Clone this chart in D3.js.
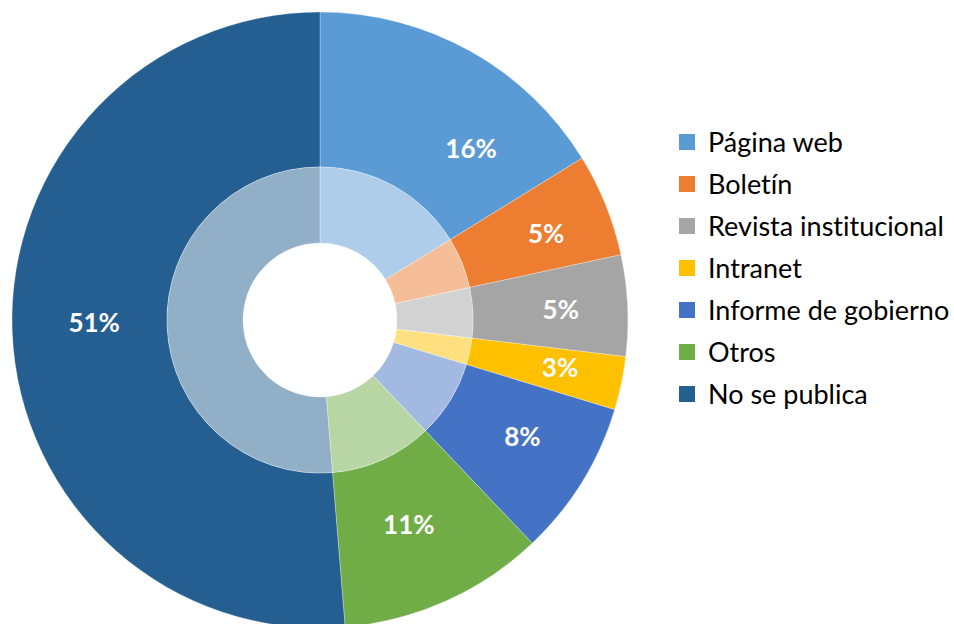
<!DOCTYPE html>
<html>
<head>
<meta charset="utf-8">
<title>Publicación</title>
<style>
body { margin: 0; background: #fff; }
svg { display: block; font-family: Lato, "Open Sans", sans-serif; font-variant-ligatures: none; }
</style>
<script src="https://d3js.org/d3.v7.min.js"></script>
</head>
<body>
<svg id="chart" width="954" height="624"></svg>
<script>
const categories = ["Página web", "Boletín", "Revista institucional", "Intranet", "Informe de gobierno", "Otros", "No se publica"];
const values = [16.2, 5.4, 5.3, 2.8, 8.2, 10.8, 51.3];
const labels = ["16%", "5%", "5%", "3%", "8%", "11%", "51%"];
const colors = ["#5B9BD5", "#ED7D31", "#A5A5A5", "#FFC000", "#4472C4", "#70AD47", "#255E91"];

const svg = d3.select("#chart");
const CX = 320, CY = 320;
const R_OUT = 308, R_MID = 153, R_IN = 77;
// labels in the original don't sit exactly on the centroids, small shifts
const labelNudge = [[38, 31], [11, 1], [9, 1], [13, 0], [5, -5], [-6, -7], [6, -7]];

const data = categories.map((c, i) => ({ name: c, value: values[i], label: labels[i], color: colors[i] }));

const pie = d3.pie().sort(null).value(d => d.value);
const arcs = pie(data);

const outer = d3.arc().innerRadius(R_MID).outerRadius(R_OUT);
const inner = d3.arc().innerRadius(R_IN).outerRadius(R_MID);
const labelArc = d3.arc().innerRadius(232).outerRadius(232);

const g = svg.append("g").attr("transform", `translate(${CX},${CY})`);

g.selectAll("path.outer")
  .data(arcs)
  .join("path")
  .attr("class", "outer")
  .attr("d", outer)
  .style("fill", d => d.data.color)
  .style("stroke", "#fff")
  .style("stroke-width", 0.6)
  .style("stroke-opacity", 0.5);

g.selectAll("path.inner")
  .data(arcs)
  .join("path")
  .attr("class", "inner")
  .attr("d", inner)
  .style("fill", d => d3.interpolateRgb(d.data.color, "#fff")(0.5))
  .style("stroke", "#fff")
  .style("stroke-width", 0.6)
  .style("stroke-opacity", 0.5);

g.selectAll("text.pct")
  .data(arcs)
  .join("text")
  .attr("class", "pct")
  .attr("transform", (d, i) => {
    const [x, y] = labelArc.centroid(d);
    const n = labelNudge[i];
    return `translate(${x + n[0]},${y + n[1]})`;
  })
  .attr("text-anchor", "middle")
  .attr("dy", "0.35em")
  .style("fill", "#fff")
  .style("font-weight", "bold")
  .style("font-size", "26px")
  .text(d => d.data.label);

const legend = svg.append("g").attr("transform", "translate(679,134)");
const row = legend.selectAll("g")
  .data(data)
  .join("g")
  .attr("transform", (d, i) => `translate(0,${i * 42})`);

row.append("rect")
  .attr("width", 16)
  .attr("height", 16)
  .style("fill", d => d.color);

row.append("text")
  .attr("x", 29)
  .attr("y", 17.5)
  .style("font-size", "27px")
  .style("fill", "#000")
  .text(d => d.name);
</script>
</body>
</html>
